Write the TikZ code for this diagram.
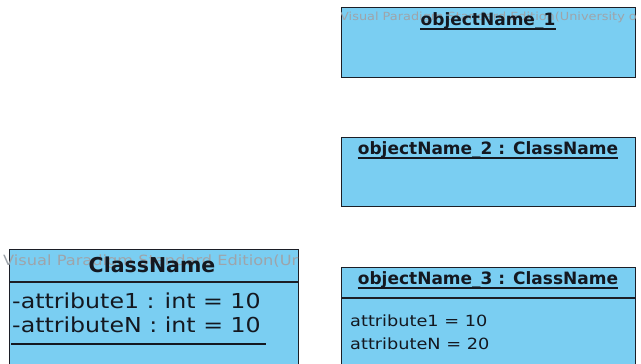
\documentclass[tikz,border=0pt]{standalone}
\usepackage{fontspec}
\setmainfont{DejaVu Sans}
\newfontfamily\attrfont[FakeStretch=1.15]{DejaVu Sans}
\newfontfamily\wmfont[FakeStretch=1.15]{DejaVu Sans}
\usetikzlibrary{calc}
\definecolor{objfill}{RGB}{122,206,242}
\definecolor{edgecol}{RGB}{28,30,38}
\definecolor{wmcol}{RGB}{158,164,170}
\definecolor{txtcol}{RGB}{20,24,32}
\tikzset{
  umlbox/.style={draw=edgecol, line width=1.4pt, fill=objfill, inner sep=0pt, anchor=north west},
  titletxt/.style={font=\bfseries\fontsize{17}{20}\selectfont, text=txtcol, inner sep=0pt, anchor=base},
  classtitle/.style={font=\bfseries\fontsize{20.5}{24}\selectfont, text=txtcol, inner sep=0pt, anchor=base},
  bigattr/.style={font=\attrfont\fontsize{20.6}{24}\selectfont, text=txtcol, inner sep=0pt, anchor=base west},
  smallattr/.style={font=\attrfont\fontsize{15.4}{18}\selectfont, text=txtcol, inner sep=0pt, anchor=base west},
  wmtxt/.style={text=wmcol, inner sep=0pt, anchor=base west},
  sepline/.style={draw=edgecol, line width=1.4pt},
  uline/.style={draw=txtcol, line width=1.1pt}
}
\begin{document}
\begin{tikzpicture}[x=1pt,y=-1pt]
\useasboundingbox (0,0) rectangle (641,364);
\clip (0,0) rectangle (641,364);
\fill[white] (0,0) rectangle (641,364);

% object 1
\node[umlbox, minimum width=294pt, minimum height=70pt] (obj1) at (341,7) {};
\begin{scope}
  \clip (obj1.north west) rectangle (obj1.south east);
  \node[wmtxt, font=\wmfont\fontsize{11.2}{13}\selectfont] (wm1) at (340,20) {Visual Paradigm Standard Edition(University o};
\end{scope}
\node[titletxt] (t1) at (488,25) {objectName\_1};
\draw[uline] ($(t1.base west)+(0,4)$) -- ($(t1.base east)+(0,4)$);

% object 2
\node[umlbox, minimum width=294pt, minimum height=69pt] (obj2) at (341,137) {};
\node[titletxt] (t2) at (488,154) {objectName\_2 : ClassName};
\draw[uline] ($(t2.base west)+(0,4)$) -- ($(t2.base east)+(0,4)$);

% object 3
\node[umlbox, minimum width=294pt, minimum height=110pt] (obj3) at (341,267) {};
\node[titletxt] (t3) at (488,284) {objectName\_3 : ClassName};
\draw[uline] ($(t3.base west)+(0,4)$) -- ($(t3.base east)+(0,4)$);
\coordinate (s3l) at (341,298);
\coordinate (s3r) at (635,298);
\draw[sepline] (s3l) -- (s3r);
\node[smallattr] (a31) at (350,326) {attribute1 = 10};
\node[smallattr] (a32) at (350,349) {attributeN = 20};

% class
\node[umlbox, minimum width=289pt, minimum height=130pt] (cls) at (9,249) {};
\begin{scope}
  \clip (0,249) rectangle (cls.south east);
  \node[wmtxt, font=\wmfont\fontsize{14.1}{16}\selectfont] (wm2) at (3,265) {Visual Paradigm Standard Edition(Ur};
\end{scope}
\node[classtitle] (ct) at (152,272) {ClassName};
\coordinate (scl) at (9,282);
\coordinate (scr) at (298,282);
\draw[sepline] (scl) -- (scr);
\node[bigattr] (ca1) at (12,308) {-attribute1 : int = 10};
\node[bigattr] (ca2) at (12,332) {-attributeN : int = 10};
\draw[uline, line width=1.4pt] ($(ca2.base west)+(-1,12)$) -- ($(ca2.base east)+(5,12)$);
\end{tikzpicture}
\end{document}
